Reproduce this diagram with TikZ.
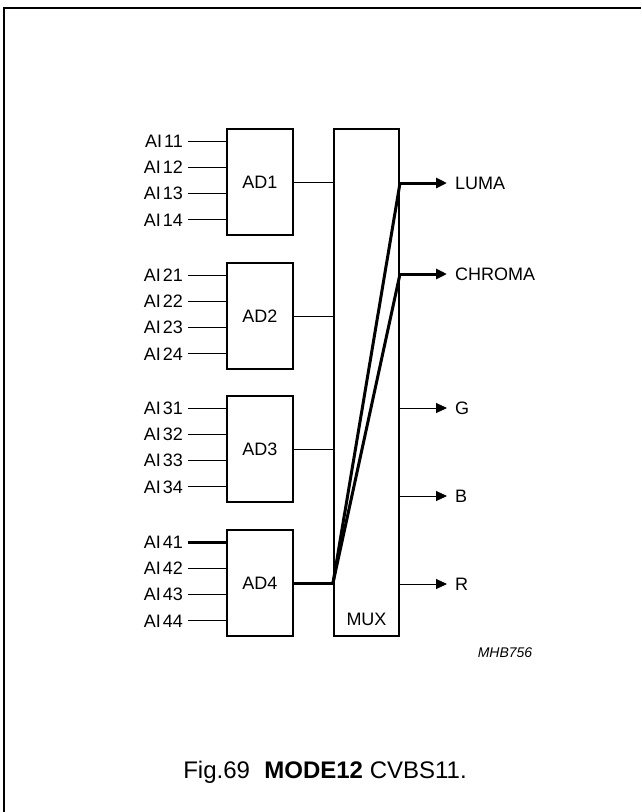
\documentclass[tikz,border=0pt]{standalone}
\usepackage{fontspec}
\setmainfont{Liberation Sans}
\usetikzlibrary{arrows.meta}
\newcommand{\lab}{\fontsize{18}{20}\selectfont}
\begin{document}
\begin{tikzpicture}[x=1pt,y=-1pt,
  adbox/.style={draw, line width=2pt, minimum width=66pt, minimum height=106pt, inner sep=0pt, font=\lab},
  lbl/.style={font=\lab, inner sep=0pt},
  thinln/.style={line width=1pt},
  thickln/.style={line width=3pt},
  arr/.style={-{Triangle[length=11pt,width=10pt]}},
  frame/.style={line width=1.5pt}]
\useasboundingbox (0,0) rectangle (641,812);
\draw[frame] (4,812) -- (4,8) -- (641,8);
% MUX
\node[draw, line width=2pt, minimum width=65pt, minimum height=507pt, inner sep=0pt] (mux) at (366.5,382.5) {};
\node[lbl] (muxl) at (366.5,619) {MUX};
% AD blocks
\foreach \k/\tp in {1/129,2/263,3/396,4/530} {
  \node[adbox] (ad\k) at (260,\tp+53) {AD\k};
  \foreach \i in {1,...,4} {
    \node[lbl, anchor=east] (ai\k\i) at (183,\tp+12+26.33*\i-26.33) {AI\kern2pt\k\i};
  }
}
\foreach \k in {1,2,3} {
  \foreach \i in {1,...,4} {
    \draw[thinln] ([xshift=5pt]ai\k\i.east) -- (ad\k.west |- ai\k\i.east);
  }
  \draw[thinln] (ad\k.east) -- (mux.west |- ad\k.east);
}
\draw[thickln] ([xshift=5pt]ai41.east) -- (ad4.west |- ai41.east);
\foreach \i in {2,3,4} {
  \draw[thinln] ([xshift=5pt]ai4\i.east) -- (ad4.west |- ai4\i.east);
}
\draw[thickln] (ad4.east) -- (mux.west |- ad4.east) coordinate (j);
% outputs
\node[lbl, anchor=west] (luma) at (455,183) {LUMA};
\node[lbl, anchor=west] (chroma) at (455,274) {CHROMA};
\node[lbl, anchor=west] (g) at (455,408) {G};
\node[lbl, anchor=west] (b) at (455,496) {B};
\node[lbl, anchor=west] (r) at (455,584) {R};
\draw[thickln, line join=round] (j) -- (mux.east |- luma.west);
\draw[thickln, line join=round] (j) -- (mux.east |- chroma.west);
\draw[thickln, arr] (mux.east |- luma.west) -- ([xshift=-8pt]luma.west);
\draw[thickln, arr] (mux.east |- chroma.west) -- ([xshift=-8pt]chroma.west);
\foreach \o in {g,b,r} {
  \draw[thinln, arr] (mux.east |- \o.west) -- ([xshift=-8pt]\o.west);
}
\node[inner sep=0pt, font=\fontsize{14}{16}\selectfont\itshape] (code) at (505,653) {MHB756};
\node[inner sep=0pt] (cap) at (325,772) {\fontsize{24}{28}\selectfont Fig.69\hspace{0.6em}\textbf{MODE12} CVBS11.};
\end{tikzpicture}
\end{document}
